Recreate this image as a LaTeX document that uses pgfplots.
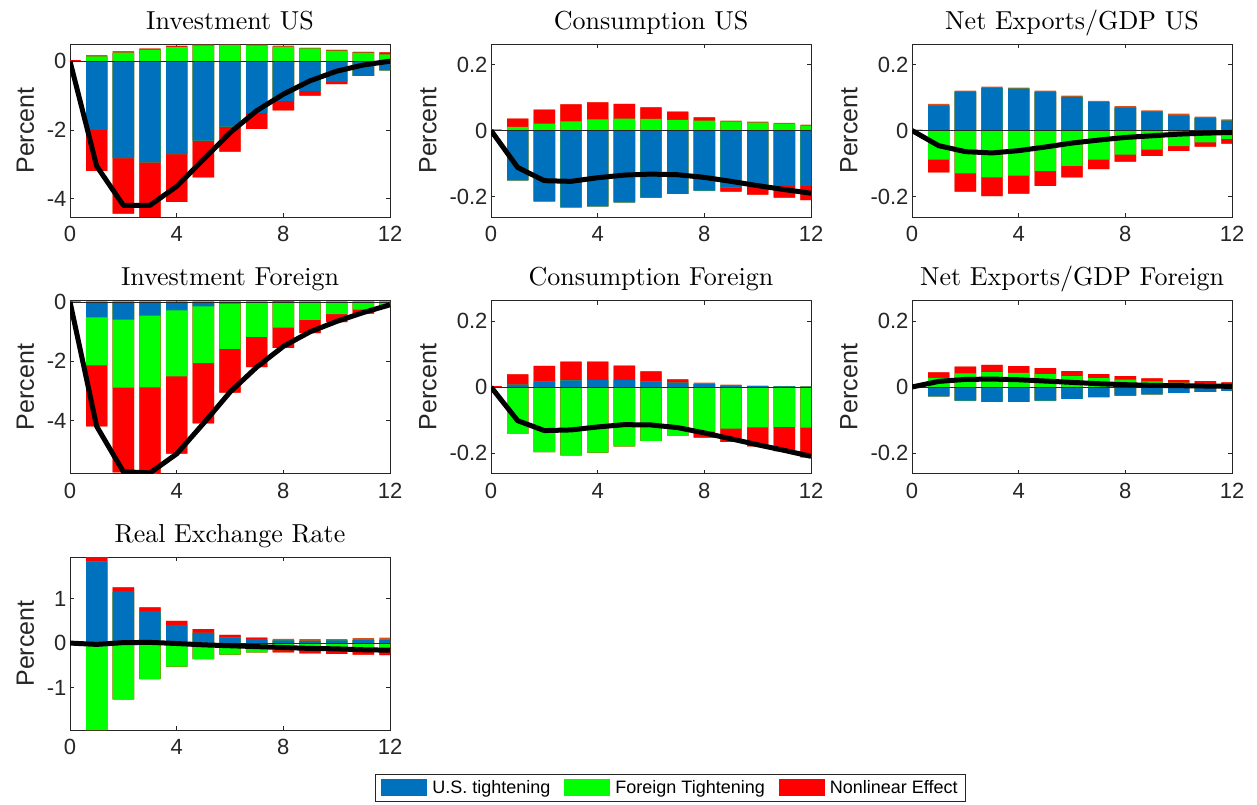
\documentclass[border=0pt]{standalone}
\usepackage{pgfplots}
\pgfplotsset{compat=1.18}
\usepackage{pgfplotstable}
\usepackage{fontspec}
\newfontfamily\arial{Liberation Sans}
\newfontfamily\cmten{lmroman10-regular.otf}
\definecolor{cB}{rgb}{0,0.447,0.741}
\definecolor{cG}{rgb}{0,1,0}
\definecolor{cR}{rgb}{1,0,0}
\definecolor{cO}{rgb}{0.85,0.325,0.098}
\definecolor{ax}{rgb}{0.15,0.15,0.15}
\newcommand\ticks{\arial\fontsize{22}{26}\selectfont}
\newcommand\labfont{\arial\fontsize{25}{29}\selectfont}
\newcommand\titfont{\cmten\fontsize{26}{30}\selectfont}
\newcommand\legfont{\arial\fontsize{18}{21}\selectfont}

% columns: t, cumulative positive extents (blue, +green, +red, +other), cumulative negative extents, total
\pgfplotstableread{
t pB pG pR pO nB nG nR nO L
0 0 0 0.03 0.03 0 0 0 0 0
1 0 0.14 0.14 0.18 -2.00 -2.00 -3.19 -3.19 -3.05
2 0 0.25 0.25 0.29 -2.82 -2.82 -4.43 -4.43 -4.19
3 0 0.34 0.36 0.37 -2.94 -2.94 -4.53 -4.53 -4.19
4 0 0.42 0.44 0.45 -2.70 -2.70 -4.09 -4.09 -3.64
5 0 0.46 0.47 0.48 -2.31 -2.31 -3.38 -3.38 -2.86
6 0 0.47 0.47 0.48 -1.90 -1.90 -2.63 -2.63 -2.08
7 0 0.46 0.46 0.48 -1.50 -1.50 -1.97 -1.97 -1.44
8 0 0.42 0.42 0.45 -1.15 -1.15 -1.43 -1.43 -0.96
9 0 0.37 0.39 0.39 -0.86 -0.86 -1.00 -1.00 -0.57
10 0 0.31 0.33 0.33 -0.60 -0.60 -0.67 -0.67 -0.29
11 0 0.25 0.27 0.27 -0.43 -0.43 -0.43 -0.43 -0.11
12 0 0.20 0.26 0.26 -0.27 -0.27 -0.27 -0.27 0.00
}\tA
\pgfplotstableread{
t pB pG pR pO nB nG nR nO L
0 0 0 0.003 0.003 0 0 0 0 0
1 0 0.011 0.036 0.036 -0.151 -0.151 -0.151 -0.151 -0.112
2 0 0.021 0.063 0.063 -0.215 -0.215 -0.215 -0.215 -0.152
3 0 0.028 0.079 0.079 -0.233 -0.233 -0.233 -0.233 -0.154
4 0 0.034 0.085 0.085 -0.230 -0.230 -0.230 -0.230 -0.143
5 0 0.036 0.081 0.081 -0.218 -0.218 -0.218 -0.218 -0.135
6 0 0.035 0.070 0.070 -0.203 -0.203 -0.203 -0.203 -0.132
7 0 0.032 0.057 0.057 -0.192 -0.192 -0.192 -0.192 -0.134
8 0 0.030 0.040 0.040 -0.182 -0.182 -0.182 -0.182 -0.142
9 0 0.027 0.027 0.030 -0.173 -0.173 -0.185 -0.185 -0.154
10 0 0.024 0.024 0.027 -0.168 -0.168 -0.194 -0.194 -0.167
11 0 0.020 0.020 0.023 -0.168 -0.168 -0.203 -0.203 -0.179
12 0 0.014 0.014 0.018 -0.168 -0.168 -0.211 -0.211 -0.190
}\tB
\pgfplotstableread{
t pB pG pR pO nB nG nR nO L
0 0 0 0 0.003 0 0 0 0 0
1 0.076 0.076 0.076 0.081 0 -0.088 -0.127 -0.127 -0.046
2 0.118 0.118 0.118 0.121 0 -0.130 -0.185 -0.185 -0.064
3 0.129 0.129 0.129 0.133 0 -0.142 -0.199 -0.199 -0.068
4 0.127 0.127 0.127 0.130 0 -0.137 -0.191 -0.191 -0.061
5 0.117 0.117 0.117 0.121 0 -0.123 -0.168 -0.168 -0.050
6 0.102 0.102 0.102 0.106 0 -0.107 -0.142 -0.142 -0.038
7 0.086 0.086 0.086 0.090 0 -0.088 -0.117 -0.117 -0.029
8 0.070 0.070 0.070 0.074 0 -0.073 -0.094 -0.094 -0.021
9 0.058 0.058 0.058 0.061 0 -0.058 -0.077 -0.077 -0.016
10 0.046 0.046 0.046 0.051 0 -0.047 -0.062 -0.062 -0.011
11 0.038 0.038 0.038 0.042 0 -0.036 -0.049 -0.049 -0.008
12 0.030 0.030 0.030 0.034 0 -0.025 -0.040 -0.040 -0.006
}\tC
\pgfplotstableread{
t pB pG pR pO nB nG nR nO L
0 0 0 0 0 0 0 -0.03 -0.03 0
1 0 0 0 0 -0.52 -2.14 -4.19 -4.19 -4.19
2 0 0 0 0 -0.60 -2.89 -5.74 -5.74 -5.72
3 0 0 0 0 -0.46 -2.88 -5.78 -5.78 -5.76
4 0 0 0 0 -0.29 -2.51 -5.11 -5.11 -5.12
5 0 0 0 0 -0.15 -2.06 -4.09 -4.09 -4.10
6 0 0 0 0 -0.06 -1.58 -3.06 -3.06 -3.04
7 0 0 0 0 -0.02 -1.18 -2.20 -2.20 -2.20
8 0 0 0 0.03 0 -0.87 -1.55 -1.55 -1.50
9 0 0 0 0 0 -0.61 -1.05 -1.05 -1.01
10 0 0 0 0 0 -0.41 -0.68 -0.68 -0.66
11 0 0 0 0 0 -0.26 -0.40 -0.40 -0.36
12 0 0 0 0 0 -0.12 -0.14 -0.14 -0.10
}\tD
\pgfplotstableread{
t pB pG pR pO nB nG nR nO L
0 0 0 0.003 0.003 0 0 0 0 0
1 0.007 0.007 0.038 0.038 0 -0.142 -0.142 -0.142 -0.102
2 0.016 0.016 0.064 0.064 0 -0.197 -0.197 -0.197 -0.132
3 0.020 0.020 0.077 0.077 0 -0.207 -0.207 -0.207 -0.130
4 0.021 0.021 0.077 0.077 0 -0.199 -0.199 -0.199 -0.121
5 0.021 0.021 0.065 0.065 0 -0.180 -0.180 -0.180 -0.114
6 0.017 0.017 0.047 0.047 0 -0.163 -0.163 -0.163 -0.115
7 0.013 0.013 0.023 0.023 0 -0.148 -0.148 -0.148 -0.123
8 0.009 0.009 0.009 0.013 0 -0.135 -0.153 -0.153 -0.139
9 0.005 0.005 0.005 0.007 0 -0.126 -0.166 -0.166 -0.157
10 0.003 0.003 0.003 0.004 0 -0.122 -0.180 -0.180 -0.175
11 0.002 0.002 0.002 0.003 0 -0.121 -0.194 -0.194 -0.192
12 0.001 0.001 0.001 0.002 0 -0.123 -0.213 -0.213 -0.210
}\tE
\pgfplotstableread{
t pB pG pR pO nB nG nR nO L
0 0 0 0 0 0 0 0 0 0
1 0 0.028 0.044 0.044 -0.028 -0.028 -0.028 -0.028 0.017
2 0 0.041 0.062 0.062 -0.041 -0.041 -0.041 -0.041 0.023
3 0 0.045 0.067 0.067 -0.045 -0.045 -0.045 -0.045 0.024
4 0 0.043 0.063 0.063 -0.045 -0.045 -0.045 -0.045 0.022
5 0 0.039 0.057 0.057 -0.041 -0.041 -0.041 -0.041 0.018
6 0 0.033 0.048 0.048 -0.036 -0.036 -0.036 -0.036 0.014
7 0 0.027 0.039 0.039 -0.031 -0.031 -0.031 -0.031 0.010
8 0 0.022 0.033 0.033 -0.026 -0.026 -0.026 -0.026 0.007
9 0 0.017 0.026 0.026 -0.022 -0.022 -0.022 -0.022 0.005
10 0 0.013 0.021 0.021 -0.018 -0.018 -0.018 -0.018 0.004
11 0 0.010 0.018 0.018 -0.015 -0.015 -0.015 -0.015 0.003
12 0 0.008 0.014 0.014 -0.012 -0.012 -0.012 -0.012 0.002
}\tF
\pgfplotstableread{
t pB pG pR pO nB nG nR nO L
0 0 0 0 0 0 0 0 0 0
1 1.83 1.83 1.93 1.93 0 -1.95 -1.95 -1.95 -0.03
2 1.15 1.15 1.25 1.25 0 -1.26 -1.26 -1.26 0.01
3 0.70 0.70 0.80 0.80 0 -0.81 -0.81 -0.81 0.015
4 0.40 0.40 0.50 0.50 0 -0.53 -0.53 -0.53 -0.01
5 0.23 0.23 0.31 0.31 0 -0.36 -0.36 -0.36 -0.04
6 0.13 0.13 0.185 0.185 0 -0.26 -0.26 -0.26 -0.06
7 0.074 0.074 0.12 0.12 0 -0.21 -0.21 -0.21 -0.08
8 0.06 0.06 0.06 0.096 0 -0.16 -0.21 -0.21 -0.10
9 0.052 0.052 0.052 0.09 0 -0.15 -0.23 -0.23 -0.12
10 0.06 0.06 0.06 0.09 0 -0.15 -0.245 -0.245 -0.13
11 0.074 0.074 0.074 0.11 0 -0.15 -0.26 -0.26 -0.15
12 0.074 0.074 0.074 0.12 0 -0.16 -0.27 -0.27 -0.16
}\tG

\pgfplotsset{
  panel/.style={scale only axis, width=320pt, height=173pt, anchor=north west,
    xmin=0, xmax=12, xtick={0,4,8,12}, tick align=inside, major tick length=4pt,
    axis line style={draw=ax, line width=0.6pt},
    every tick/.style={ax, line width=0.6pt},
    /pgf/number format/assume math mode=true,
    ticklabel style={font=\ticks, text=ax},
    xticklabel style={yshift=-6pt},
    ylabel={Percent}, ylabel style={font=\labfont, text=ax, yshift=6pt},
    every axis title/.style={at={(0.5,1)}, anchor=south, yshift=14.5pt, inner sep=0pt, text depth=0pt, font=\titfont},
  },
  small/.style={ymin=-0.262, ymax=0.262, ytick={-0.2,0,0.2}},
  bb/.style={ybar, bar width=0.8, bar shift=0pt, draw=none, forget plot},
  leg/.style={legend image code/.code={\fill[##1] (0pt,-8.5pt) rectangle (46pt,8.5pt);}},
}

\newcommand\drawpanel[1]{%
  \addplot[bb, fill=cO] table[x=t,y=pO]{#1};
  \addplot[bb, fill=cR] table[x=t,y=pR]{#1};
  \addplot[bb, fill=cG] table[x=t,y=pG]{#1};
  \addplot[bb, fill=cB] table[x=t,y=pB]{#1};
  \addplot[bb, fill=cO] table[x=t,y=nO]{#1};
  \addplot[bb, fill=cR] table[x=t,y=nR]{#1};
  \addplot[bb, fill=cG] table[x=t,y=nG]{#1};
  \addplot[bb, fill=cB] table[x=t,y=nB]{#1};
  \addplot[ax, line width=0.6pt, forget plot] coordinates {(-1,0) (13,0)};
  \addplot[black, line width=5pt, line join=round, forget plot] table[x=t,y=L]{#1};
}

\begin{document}
\begin{tikzpicture}
\path[use as bounding box] (0pt,0pt) rectangle (1257pt,-804pt);

\begin{axis}[panel, at={(70pt,-44pt)}, title={Investment US}, ymin=-4.53, ymax=0.5, ytick={-4,-2,0}]
\drawpanel{\tA}
\end{axis}
\begin{axis}[panel, small, at={(491pt,-44pt)}, title={Consumption US}]
\drawpanel{\tB}
\end{axis}
\begin{axis}[panel, small, at={(912pt,-44pt)}, title={Net Exports/GDP US}]
\drawpanel{\tC}
\end{axis}

\begin{axis}[panel, at={(70pt,-300.5pt)}, title={Investment Foreign}, ymin=-5.78, ymax=0.045, ytick={-4,-2,0}]
\drawpanel{\tD}
\end{axis}
\begin{axis}[panel, small, at={(491pt,-300.5pt)}, title={Consumption Foreign}]
\drawpanel{\tE}
\end{axis}
\begin{axis}[panel, small, at={(912pt,-300.5pt)}, title={Net Exports/GDP Foreign}]
\drawpanel{\tF}
\end{axis}

\begin{axis}[panel, at={(70pt,-557pt)}, title={Real Exchange Rate}, ymin=-1.95, ymax=1.93, ytick={-1,0,1},
  legend style={at={(1.8766,-0.335)}, anchor=center, legend columns=3, draw=ax, line width=0.5pt,
    font=\legfont, text=black, inner xsep=6pt, inner ysep=4pt,
    /tikz/every odd column/.append style={column sep=3pt},
    /tikz/every even column/.append style={column sep=12pt}}]
\drawpanel{\tG}
\addlegendimage{leg, fill=cB, draw=none}
\addlegendentry{U.S. tightening}
\addlegendimage{leg, fill=cG, draw=none}
\addlegendentry{Foreign Tightening}
\addlegendimage{leg, fill=cR, draw=none}
\addlegendentry{Nonlinear Effect}
\end{axis}
\end{tikzpicture}
\end{document}
